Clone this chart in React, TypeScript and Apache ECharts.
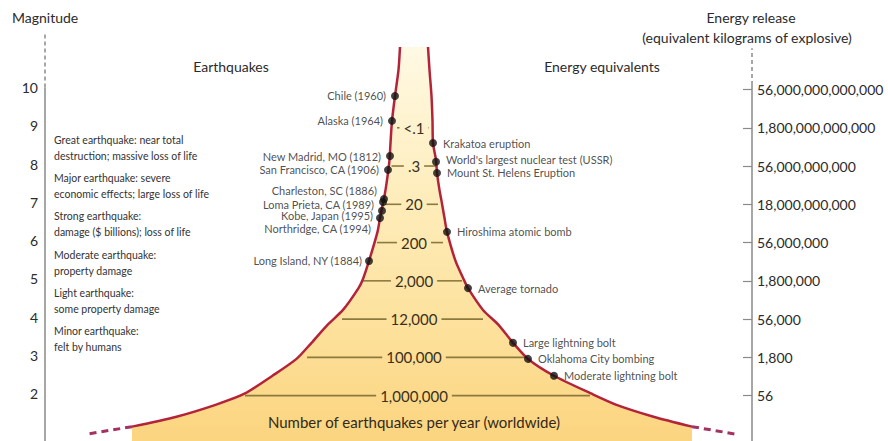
import React, { useEffect, useRef } from 'react';
import * as echarts from 'echarts';

// ---------- data ----------
const magnitudeTicks = [2, 3, 4, 5, 6, 7, 8, 9, 10];
const energyLabels = [
  '56',
  '1,800',
  '56,000',
  '1,800,000',
  '56,000,000',
  '18,000,000,000',
  '56,000,000,000',
  '1,800,000,000,000',
  '56,000,000,000,000',
];
const countMagnitudes = [2, 3, 4, 5, 6, 7, 8, 9];
const countLabels = ['1,000,000', '100,000', '12,000', '2,000', '200', '20', '.3', '<.1'];

const descriptionMagnitudes = [8.5, 7.5, 6.5, 5.5, 4.5, 3.5];
const descriptionTexts = [
  'Great earthquake: near total\ndestruction; massive loss of life',
  'Major earthquake: severe\neconomic effects; large loss of life',
  'Strong earthquake:\ndamage ($ billions); loss of life',
  'Moderate earthquake:\nproperty damage',
  'Light earthquake:\nsome property damage',
  'Minor earthquake:\nfelt by humans',
];

// funnel edges: horizontal position (0 = funnel centre) by magnitude
const curveMagnitudes = [11.11, 10.51, 9.83, 9.18, 8.6, 8.16, 7.82, 7.37, 7.09, 6.64, 6.28, 5.52, 5.05, 4.81, 4.24, 3.85, 3.38, 2.96, 2.52, 2.05, 1.76, 1.45, 1.19];
const curveLeft = [-13.5, -15, -18.5, -21.5, -23, -24, -25.5, -28, -30, -33.5, -36, -44.5, -50.5, -55, -70.5, -86, -102, -117, -141, -169, -198, -237, -281.5];
const curveRight = [14.5, 16, 18, 19, 19.5, 22.5, 23.5, 26, 28, 31, 33.5, 42, 50, 54.5, 69.5, 85, 99.5, 114.5, 140.5, 178, 203, 240, 278.5];
const dashMagnitudes = [1.19, 1.0];
const dashLeft = [-281.5, -325.5];
const dashRight = [278.5, 321];

const eventNames = [
  'Chile (1960)',
  'Alaska (1964)',
  'New Madrid, MO (1812)',
  'San Francisco, CA (1906)',
  'Charleston, SC (1886)',
  'Loma Prieta, CA (1989)',
  'Kobe, Japan (1995)',
  'Northridge, CA (1994)',
  'Long Island, NY (1884)',
  'Krakatoa eruption',
  "World's largest nuclear test (USSR)",
  'Mount St. Helens Eruption',
  'Hiroshima atomic bomb',
  'Average tornado',
  'Large lightning bolt',
  'Oklahoma City bombing',
  'Moderate lightning bolt',
];
const eventX = [-18.5, -21.5, -23.5, -25.5, -29.5, -30.5, -31.5, -33.5, -44.5, 19.5, 22.5, 23.5, 33.5, 54.5, 99.5, 114.5, 140.5];
const eventMagnitudes = [9.83, 9.18, 8.26, 7.9, 7.14, 7.06, 6.83, 6.64, 5.52, 8.6, 8.11, 7.82, 6.28, 4.81, 3.38, 2.96, 2.52];

// ---------- layout / style ----------
const FONT = 'Lato, "Noto Sans", sans-serif';
const X_MIN = -368.5;
const X_MAX = 338.5;
const Y_MIN = 0.815;
const Y_MAX = 11.45;
const LEFT_SHIFT = 0.052; // left axis drawn ~2px higher than the right one
const countLineLeft = [-168.5, -106.5, -71.5, -50.5, -36.5, -28.5, -22, -16.5];
const countLineRight = [176.5, 113.5, 69.5, 48.5, 29.5, 24.5, 23.5, 15.5];
const labelOffsets: Record<string, number[]> = {
  'Charleston, SC (1886)': [2, -8.5],
  'Loma Prieta, CA (1989)': [0, 2],
  'Kobe, Japan (1995)': [0, 5],
  'Northridge, CA (1994)': [0, 10.5],
  'Long Island, NY (1884)': [2, 0],
  "World's largest nuclear test (USSR)": [0, -2],
};
const CURVE = '#B3243A';
const DASH = '#A33262';
const AXIS = '#8a8a8a';
const ROWLINE = '#8b7a3e';
const TEXT = '#2b2b2b';

function measure(text: string, font: string): number {
  const c = document.createElement('canvas').getContext('2d');
  if (!c) return text.length * 8;
  c.font = font;
  return c.measureText(text).width;
}

export default function App() {
  const ref = useRef<HTMLDivElement>(null);

  useEffect(() => {
    if (!ref.current) return;
    const chart = echarts.init(ref.current, undefined, { renderer: 'svg' });
    const countFont = `15px ${FONT}`;

    const fillGradient = new echarts.graphic.LinearGradient(0, 0, 0, 1, [
      { offset: 0, color: '#FFF9E4' },
      { offset: 0.4, color: '#FEECB9' },
      { offset: 0.7, color: '#FDE19C' },
      { offset: 1, color: '#FBD47E' },
    ]);

    const n = curveMagnitudes.length;
    const lineData = (xs: number[], ms: number[]) => xs.map((x, i) => [x, ms[i]]);

    const option: any = {
      animation: false,
      backgroundColor: '#ffffff',
      grid: { left: 45, right: 136, top: 34, bottom: 0, containLabel: false },
      xAxis: { type: 'value', min: X_MIN, max: X_MAX, show: false },
      yAxis: [
        {
          type: 'value',
          position: 'left',
          min: Y_MIN - LEFT_SHIFT,
          max: Y_MAX - LEFT_SHIFT,
          axisLine: { show: false },
          splitLine: { show: false },
          axisTick: { show: true, inside: true, length: 8, customValues: magnitudeTicks, lineStyle: { color: AXIS, width: 1.2 } },
          axisLabel: {
            customValues: magnitudeTicks,
            margin: 7,
            fontFamily: FONT,
            fontSize: 14,
            color: TEXT,
            formatter: (v: number) => String(v),
          },
        },
        {
          type: 'value',
          position: 'right',
          min: Y_MIN,
          max: Y_MAX,
          axisLine: { show: false },
          splitLine: { show: false },
          axisTick: { show: true, inside: true, length: 9, customValues: magnitudeTicks, lineStyle: { color: AXIS, width: 1.2 } },
          axisLabel: {
            customValues: magnitudeTicks,
            margin: 5,
            fontFamily: FONT,
            fontSize: 14,
            color: TEXT,
            formatter: (v: number) => energyLabels[magnitudeTicks.indexOf(Math.round(v))] ?? '',
          },
        },
      ],
      graphic: [
        { type: 'text', left: 12, top: 10, style: { text: 'Magnitude', font: `14px ${FONT}`, fill: TEXT } },
        { type: 'text', x: 231, y: 66, style: { text: 'Earthquakes', font: `14px ${FONT}`, fill: TEXT, textAlign: 'center', textVerticalAlign: 'middle', align: 'center', verticalAlign: 'middle' } },
        { type: 'text', x: 602, y: 66, style: { text: 'Energy equivalents', font: `14px ${FONT}`, fill: TEXT, textAlign: 'center', textVerticalAlign: 'middle', align: 'center', verticalAlign: 'middle' } },
        { type: 'text', x: 751, y: 17, style: { text: 'Energy release', font: `14px ${FONT}`, fill: TEXT, textAlign: 'center', textVerticalAlign: 'middle', align: 'center', verticalAlign: 'middle' } },
        { type: 'text', x: 747, y: 37, style: { text: '(equivalent kilograms of explosive)', font: `14px ${FONT}`, fill: TEXT, textAlign: 'center', textVerticalAlign: 'middle', align: 'center', verticalAlign: 'middle' } },
        { type: 'text', x: 414, y: 422, z: 50, style: { text: 'Number of earthquakes per year (worldwide)', font: `15px ${FONT}`, fill: '#33291a', textAlign: 'center', textVerticalAlign: 'middle', align: 'center', verticalAlign: 'middle' } },
      ],
      series: [
        // funnel fill
        {
          type: 'custom',
          xAxisIndex: 0,
          yAxisIndex: 1,
          z: 1,
          silent: true,
          data: [[0, 0]],
          renderItem: (_p: any, api: any) => {
            const pts: number[][] = [];
            for (let i = 0; i < n; i++) pts.push(api.coord([curveLeft[i], curveMagnitudes[i]]));
            pts.push(api.coord([curveLeft[n - 1], Y_MIN - 0.1]));
            pts.push(api.coord([curveRight[n - 1], Y_MIN - 0.1]));
            for (let i = n - 1; i >= 0; i--) pts.push(api.coord([curveRight[i], curveMagnitudes[i]]));
            return { type: 'polygon', shape: { points: pts }, style: { fill: fillGradient, stroke: 'none' } };
          },
        },
        // earthquake counts rows
        {
          type: 'custom',
          xAxisIndex: 0,
          yAxisIndex: 1,
          z: 2,
          silent: true,
          data: countMagnitudes.map((m, i) => [i, m]),
          renderItem: (_p: any, api: any) => {
            const i = api.value(0);
            const m = countMagnitudes[i];
            const c = api.coord([0, m]);
            const l = api.coord([countLineLeft[i], m]);
            const r = api.coord([countLineRight[i], m]);
            const half = measure(countLabels[i], countFont) / 2 + 4;
            const cx = c[0] + 0.5;
            return {
              type: 'group',
              children: [
                { type: 'line', shape: { x1: l[0], y1: c[1], x2: cx - half, y2: c[1] }, style: { stroke: ROWLINE, lineWidth: 1.6 } },
                { type: 'line', shape: { x1: cx + half, y1: c[1], x2: r[0], y2: c[1] }, style: { stroke: ROWLINE, lineWidth: 1.6 } },
                {
                  type: 'text',
                  x: cx,
                  y: c[1],
                  style: { text: countLabels[i], font: countFont, fill: '#3a301c', textAlign: 'center', textVerticalAlign: 'middle', align: 'center', verticalAlign: 'middle' },
                },
              ],
            };
          },
        },
        // descriptions
        {
          type: 'custom',
          xAxisIndex: 0,
          yAxisIndex: 1,
          z: 2,
          silent: true,
          data: descriptionMagnitudes.map((m, i) => [i, m]),
          renderItem: (_p: any, api: any) => {
            const i = api.value(0);
            const c = api.coord([X_MIN, descriptionMagnitudes[i]]);
            return {
              type: 'text',
              x: c[0] + 9,
              y: c[1] + 1,
              style: {
                text: descriptionTexts[i],
                font: `10.5px ${FONT}`,
                fill: '#333333',
                lineHeight: 16,
                textAlign: 'left',
                textVerticalAlign: 'middle',
                align: 'left',
                verticalAlign: 'middle',
              },
            };
          },
        },
        // axis lines
        { type: 'line', yAxisIndex: 1, z: 3, symbol: 'none', silent: true, data: [[X_MIN, Y_MIN - 0.1], [X_MIN, 10.05]], lineStyle: { color: AXIS, width: 1.5 } },
        { type: 'line', yAxisIndex: 1, z: 3, symbol: 'none', silent: true, data: [[X_MIN, 10.05], [X_MIN, Y_MAX]], lineStyle: { color: AXIS, width: 1.5, type: [4, 3] } },
        { type: 'line', yAxisIndex: 1, z: 3, symbol: 'none', silent: true, data: [[X_MAX, Y_MIN - 0.1], [X_MAX, 10.12]], lineStyle: { color: AXIS, width: 1.5 } },
        { type: 'line', yAxisIndex: 1, z: 3, symbol: 'none', silent: true, data: [[X_MAX, 10.12], [X_MAX, 11.08]], lineStyle: { color: AXIS, width: 1.5, type: [4, 3] } },
        // funnel edges
        { type: 'line', yAxisIndex: 1, z: 4, symbol: 'none', silent: true, smooth: 0.25, clip: false, data: lineData(curveLeft, curveMagnitudes), lineStyle: { color: CURVE, width: 2.5 } },
        { type: 'line', yAxisIndex: 1, z: 4, symbol: 'none', silent: true, smooth: 0.25, clip: false, data: lineData(curveRight, curveMagnitudes), lineStyle: { color: CURVE, width: 2.5 } },
        { type: 'line', yAxisIndex: 1, z: 4, symbol: 'none', silent: true, clip: false, data: lineData(dashLeft, dashMagnitudes), lineStyle: { color: DASH, width: 3, type: [7, 5] } },
        { type: 'line', yAxisIndex: 1, z: 4, symbol: 'none', silent: true, clip: false, data: lineData(dashRight, dashMagnitudes), lineStyle: { color: DASH, width: 3, type: [7, 5] } },
        // events
        {
          type: 'scatter',
          yAxisIndex: 1,
          z: 5,
          symbolSize: 8,
          itemStyle: { color: '#111111' },
          data: eventNames.map((name, i) => {
            const left = eventX[i] < 0;
            return {
              name,
              value: [eventX[i], eventMagnitudes[i]],
              label: {
                show: true,
                position: left ? 'left' : 'right',
                distance: left ? 5 : 6,
                offset: labelOffsets[name] ?? [0, 0],
                formatter: '{b}',
                fontFamily: FONT,
                fontSize: 11,
                lineHeight: 12,
                color: '#222222',
              },
            };
          }),
        },
      ],
    };

    chart.setOption(option);
    return () => chart.dispose();
  }, []);

  return (
    <div
      ref={ref}
      style={{ position: 'fixed', left: 0, top: 0, width: 888, height: 441, background: '#fff' }}
    />
  );
}
